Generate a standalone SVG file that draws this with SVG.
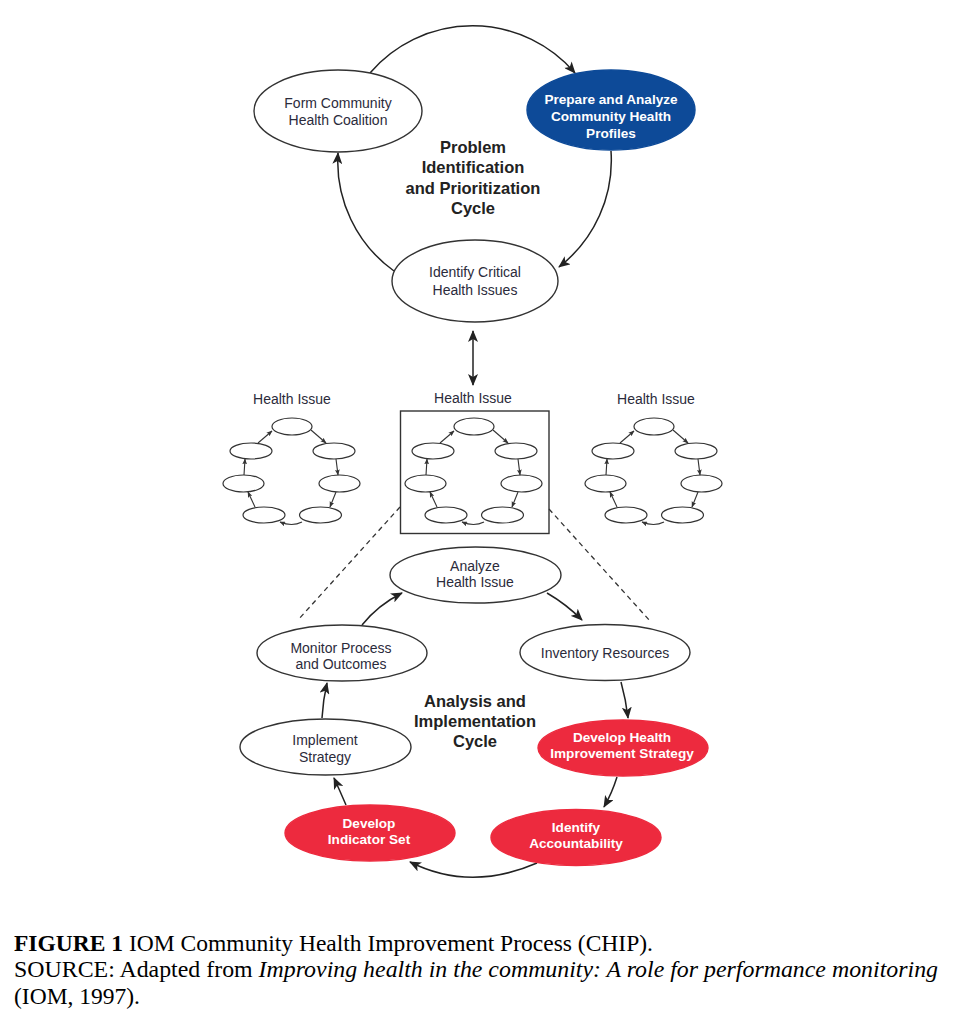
<svg xmlns="http://www.w3.org/2000/svg" xmlns:xlink="http://www.w3.org/1999/xlink" width="954" height="1024" viewBox="0 0 954 1024">
<style>
.node{fill:#fff;stroke:#333;stroke-width:1.4}
.blue{fill:#0d4a98;stroke:#0d4a98}
.red{fill:#ed2a3e;stroke:#ed2a3e}
.t{font-family:"Liberation Sans",Arial,sans-serif;font-size:14px;fill:#2b2b3b;text-anchor:middle}
.tw{font-family:"Liberation Sans",Arial,sans-serif;font-size:13.6px;font-weight:bold;fill:#fff;text-anchor:middle}
.title{font-family:"Liberation Sans",Arial,sans-serif;font-size:16.5px;font-weight:bold;fill:#222;text-anchor:middle}
.lbl{font-family:"Liberation Sans",Arial,sans-serif;font-size:14px;fill:#2b2b3b;text-anchor:middle}
.conn{fill:none;stroke:#222;stroke-width:1.5}
.mini{fill:#fff;stroke:#333;stroke-width:1.2}
.mconn{fill:none;stroke:#333;stroke-width:1.1}
.dash{fill:none;stroke:#333;stroke-width:1.3;stroke-dasharray:5,4}
.cap{font-family:"Liberation Serif","Times New Roman",serif;font-size:23.5px;fill:#000}
</style>
<defs>
<marker id="ah" viewBox="0 0 12 10" refX="11" refY="5" markerWidth="12" markerHeight="10" markerUnits="userSpaceOnUse" orient="auto">
<path d="M0,0 L12,5 L0,10 L3,5 z" fill="#222"/>
</marker>
<marker id="ahs" viewBox="0 0 12 10" refX="11" refY="5" markerWidth="12" markerHeight="10" markerUnits="userSpaceOnUse" orient="auto-start-reverse">
<path d="M0,0 L12,5 L0,10 L3,5 z" fill="#222"/>
</marker>
<marker id="am" viewBox="0 0 10 8" refX="9" refY="4" markerWidth="6" markerHeight="5" markerUnits="userSpaceOnUse" orient="auto">
<path d="M0,0 L10,4 L0,8 L2,4 z" fill="#333"/>
</marker>
<g id="minicycle">
<ellipse class="mini" cx="474" cy="426.5" rx="20" ry="8.5"/>
<ellipse class="mini" cx="433" cy="451" rx="21" ry="8"/>
<ellipse class="mini" cx="516" cy="451" rx="21" ry="8"/>
<ellipse class="mini" cx="425.5" cy="483.5" rx="20.5" ry="8.5"/>
<ellipse class="mini" cx="521.5" cy="483.5" rx="20.5" ry="8.5"/>
<ellipse class="mini" cx="446" cy="515" rx="21" ry="8"/>
<ellipse class="mini" cx="502.5" cy="515" rx="21" ry="8"/>
<path class="mconn" d="M440,443 L454,431" marker-end="url(#am)"/>
<path class="mconn" d="M493,430 L508,443" marker-end="url(#am)"/>
<path class="mconn" d="M518,459 L520,475" marker-end="url(#am)"/>
<path class="mconn" d="M518,492 L512,507" marker-end="url(#am)"/>
<path class="mconn" d="M484,522 Q474,527 462,522" marker-end="url(#am)"/>
<path class="mconn" d="M437,507 L430,492" marker-end="url(#am)"/>
<path class="mconn" d="M426,475 L427,459" marker-end="url(#am)"/>
</g>
</defs>
<rect width="954" height="1024" fill="#fff"/>

<g id="connectors">
<path class="conn" d="M370,73 A135,135 0 0 1 575,73" marker-end="url(#ah)"/>
<path class="conn" d="M611,151 A135,135 0 0 1 559,267" marker-end="url(#ah)"/>
<path class="conn" d="M394,271 A135,135 0 0 1 338,153" marker-end="url(#ah)"/>
<path class="conn" d="M473,331 L473,385" marker-start="url(#ahs)" marker-end="url(#ah)"/>
<path class="dash" d="M400,507 L298,620"/>
<path class="dash" d="M549,509 L650,621"/>
<path class="conn" d="M362,625 Q378,605 402,593" marker-end="url(#ah)"/>
<path class="conn" d="M547,593 Q566,604 582,620" marker-end="url(#ah)"/>
<path class="conn" d="M621,682 Q626,700 628,718" marker-end="url(#ah)"/>
<path class="conn" d="M617,777 Q612,793 604,807" marker-end="url(#ah)"/>
<path class="conn" d="M537,863 Q470,892 410,862" marker-end="url(#ah)"/>
<path class="conn" d="M346,805 Q340,791 334,778" marker-end="url(#ah)"/>
<path class="conn" d="M322,718 Q323,700 327,683" marker-end="url(#ah)"/>
</g>

<g id="form-coalition">
<ellipse class="node" cx="338" cy="111" rx="84" ry="41"/>
<text class="t" x="338" y="108">Form Community</text>
<text class="t" x="338" y="125">Health Coalition</text>
</g>
<g id="prepare-profiles">
<ellipse class="node blue" cx="611" cy="110" rx="84" ry="40"/>
<text class="tw" x="611" y="104">Prepare and Analyze</text>
<text class="tw" x="611" y="121">Community Health</text>
<text class="tw" x="611" y="138">Profiles</text>
</g>
<g id="identify-issues">
<ellipse class="node" cx="475" cy="281" rx="83" ry="41"/>
<text class="t" x="475" y="277">Identify Critical</text>
<text class="t" x="475" y="295">Health Issues</text>
</g>
<g id="problem-title">
<text class="title" x="473" y="153">Problem</text>
<text class="title" x="473" y="173">Identification</text>
<text class="title" x="473" y="194">and Prioritization</text>
<text class="title" x="473" y="214">Cycle</text>
</g>

<g id="health-issue-left">
<text class="lbl" x="292" y="404">Health Issue</text>
<use xlink:href="#minicycle" href="#minicycle" transform="translate(-182,0)"/>
</g>
<g id="health-issue-center">
<text class="lbl" x="473" y="403">Health Issue</text>
<rect x="400.5" y="411" width="148.5" height="122.5" fill="none" stroke="#333" stroke-width="1.4"/>
<use xlink:href="#minicycle" href="#minicycle"/>
</g>
<g id="health-issue-right">
<text class="lbl" x="656" y="404">Health Issue</text>
<use xlink:href="#minicycle" href="#minicycle" transform="translate(180,0)"/>
</g>

<g id="analyze">
<ellipse class="node" cx="475.5" cy="575" rx="85.5" ry="28"/>
<text class="t" x="475" y="571">Analyze</text>
<text class="t" x="475" y="587">Health Issue</text>
</g>
<g id="monitor">
<ellipse class="node" cx="342" cy="653" rx="85" ry="28"/>
<text class="t" x="341" y="653">Monitor Process</text>
<text class="t" x="341" y="669">and Outcomes</text>
</g>
<g id="inventory">
<ellipse class="node" cx="605" cy="652.5" rx="85" ry="28"/>
<text class="t" x="605" y="658">Inventory Resources</text>
</g>
<g id="implement">
<ellipse class="node" cx="325.5" cy="747" rx="85.5" ry="28"/>
<text class="t" x="325" y="745">Implement</text>
<text class="t" x="325" y="762">Strategy</text>
</g>
<g id="develop-strategy">
<ellipse class="node red" cx="623" cy="748" rx="85" ry="28"/>
<text class="tw" x="622" y="742">Develop Health</text>
<text class="tw" x="622" y="758">Improvement Strategy</text>
</g>
<g id="develop-indicator">
<ellipse class="node red" cx="370" cy="833" rx="85" ry="28"/>
<text class="tw" x="369" y="828">Develop</text>
<text class="tw" x="369" y="844">Indicator Set</text>
</g>
<g id="identify-accountability">
<ellipse class="node red" cx="576" cy="837.5" rx="85" ry="28"/>
<text class="tw" x="576" y="832">Identify</text>
<text class="tw" x="576" y="848">Accountability</text>
</g>
<g id="analysis-title">
<text class="title" x="475" y="707">Analysis and</text>
<text class="title" x="475" y="727">Implementation</text>
<text class="title" x="475" y="747">Cycle</text>
</g>

<g id="caption">
<text class="cap" x="14" y="951" textLength="639" lengthAdjust="spacingAndGlyphs"><tspan font-weight="bold">FIGURE 1</tspan> IOM Community Health Improvement Process (CHIP).</text>
<text class="cap" x="14" y="977" textLength="924" lengthAdjust="spacingAndGlyphs">SOURCE: Adapted from <tspan font-style="italic">Improving health in the community: A role for performance monitoring</tspan></text>
<text class="cap" x="14" y="1004" textLength="126" lengthAdjust="spacingAndGlyphs">(IOM, 1997).</text>
</g>
</svg>
